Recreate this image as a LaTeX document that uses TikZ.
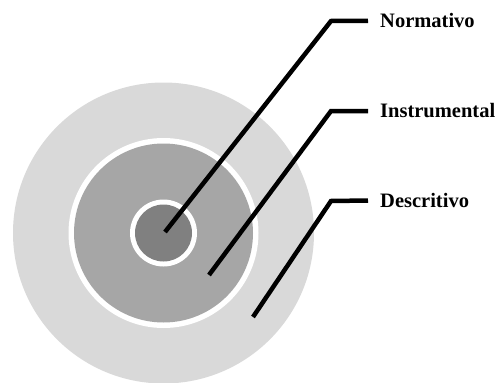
\documentclass[tikz,border=0pt]{standalone}
\usepackage{fontspec}
\setmainfont{Liberation Serif}
\begin{document}
\begin{tikzpicture}[x=1pt,y=-1pt,
  lab/.style={anchor=west,inner sep=0pt,font=\fontsize{20.5}{24}\selectfont\bfseries},
  leader/.style={line width=4.5pt,black,line join=miter}]
\useasboundingbox (0,0) rectangle (504,383);
\fill[gray!30] (163.5,233) circle (150.5);
\fill[white] (163.5,233) circle (95);
\fill[black!35] (163.5,233) circle (89.5);
\fill[white] (163.5,233) circle (33.5);
\fill[black!50] (163.5,233) circle (28.5);
\node[lab] (labN) at (380,20.8) {Normativo};
\node[lab] (labI) at (380,111) {Instrumental};
\node[lab] (labD) at (380,200.5) {Descritivo};
\coordinate (tipN) at (165,232);
\coordinate (tipI) at (209,275);
\coordinate (tipD) at (253,317);
\coordinate (cN) at (331,21);
\coordinate (cI) at (331,111);
\coordinate (cD) at (331,201);
\draw[leader] (tipN) -- (cN) -- ([xshift=-12pt]labN.west);
\draw[leader] (tipI) -- (cI) -- ([xshift=-12pt]labI.west);
\draw[leader] (tipD) -- (cD) -- ([xshift=-12pt]labD.west);
\end{tikzpicture}
\end{document}
